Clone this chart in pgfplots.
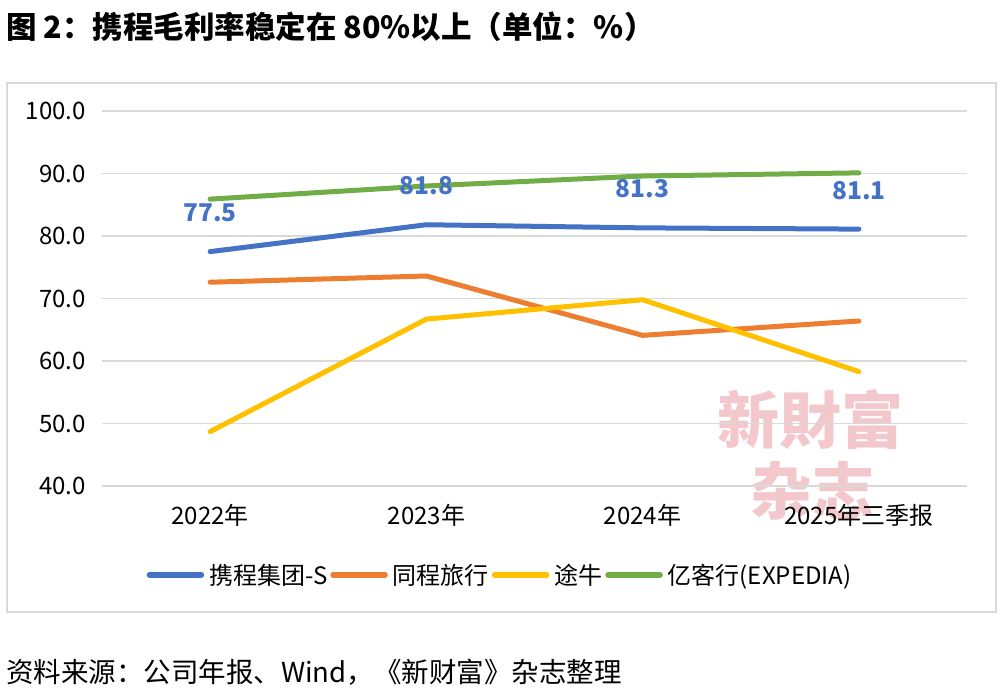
\documentclass[border=0pt]{standalone}
\usepackage{fontspec}
\setmainfont{Noto Sans CJK SC}
\usepackage{pgfplots}
\pgfplotsset{compat=1.18}
\definecolor{cblue}{HTML}{4472C4}
\definecolor{corange}{HTML}{ED7D31}
\definecolor{cyellow}{HTML}{FFC000}
\definecolor{cgreen}{HTML}{70AD47}
\definecolor{gridgray}{HTML}{D9D9D9}
\definecolor{wmpink}{RGB}{243,200,205}
\begin{document}
\begin{tikzpicture}
\path[use as bounding box] (0pt,0pt) rectangle (1002pt,690pt);
\draw[color=gridgray, line width=2pt] (7pt,78pt) rectangle (996pt,607pt);
\node[anchor=west, inner sep=0pt, font=\fontsize{30.5}{36}\selectfont\bfseries] at (6pt,663pt) {图 2：携程毛利率稳定在 80\%以上（单位：\%）};
\node[anchor=west, inner sep=0pt, font=\fontsize{27.5}{32}\selectfont] at (6pt,18pt) {资料来源：公司年报、Wind，《新财富》杂志整理};
\node[text=wmpink, inner sep=0pt, font=\fontsize{62}{70}\selectfont\bfseries] at (810pt,270pt) {新財富};
\node[text=wmpink, inner sep=0pt, font=\fontsize{62}{70}\selectfont\bfseries] at (812pt,199pt) {杂志};
\begin{axis}[
  at={(102pt,204pt)}, anchor=south west,
  scale only axis, width=865pt, height=375pt,
  xmin=-0.5, xmax=3.5, ymin=40, ymax=100,
  xtick={0,1,2,3},
  xticklabels={2022年,2023年,2024年,2025年三季报},
  ytick={40,50,60,70,80,90,100},
  axis line style={draw=none},
  major tick length=0pt,
  ymajorgrids, grid style={color=gridgray, line width=1.5pt},
  /pgf/number format/assume math mode=true,
  yticklabel style={/pgf/number format/fixed, /pgf/number format/fixed zerofill, /pgf/number format/precision=1},
  tick label style={font=\fontsize{24}{28}\selectfont, text=black},
  yticklabel style={anchor=east, inner sep=0pt, xshift=-16pt},
  xticklabel style={anchor=center, inner sep=0pt, yshift=-29pt},
  clip=false,
  legend columns=4,
  legend style={draw=none, fill=none, at={(0.459,-0.237)}, anchor=center,
    font=\fontsize{24}{28}\selectfont, inner sep=0pt,
    nodes={inner sep=0pt},
    /tikz/every odd column/.append style={column sep=5pt},
    /tikz/every even column/.append style={column sep=3pt}},
  legend image code/.code={\draw[#1, line width=5.5pt, line cap=round] (2pt,0pt) -- (54pt,0pt);},
  every axis plot/.append style={line width=5pt, line cap=round, line join=round, mark=none},
]
\addplot[color=cblue,
  nodes near coords,
  nodes near coords style={font=\fontsize{24.5}{28}\selectfont\bfseries, text=cblue, anchor=center, yshift=39pt,
    /pgf/number format/fixed, /pgf/number format/fixed zerofill, /pgf/number format/precision=1}]
  coordinates {(0,77.5) (1,81.8) (2,81.3) (3,81.1)};
\addlegendentry{携程集团-S}
\addplot[color=corange] coordinates {(0,72.6) (1,73.6) (2,64.1) (3,66.4)};
\addlegendentry{同程旅行}
\addplot[color=cyellow] coordinates {(0,48.7) (1,66.7) (2,69.8) (3,58.3)};
\addlegendentry{途牛}
\addplot[color=cgreen] coordinates {(0,85.9) (1,88.0) (2,89.6) (3,90.1)};
\addlegendentry{亿客行(EXPEDIA)}
\end{axis}
\end{tikzpicture}
\end{document}
